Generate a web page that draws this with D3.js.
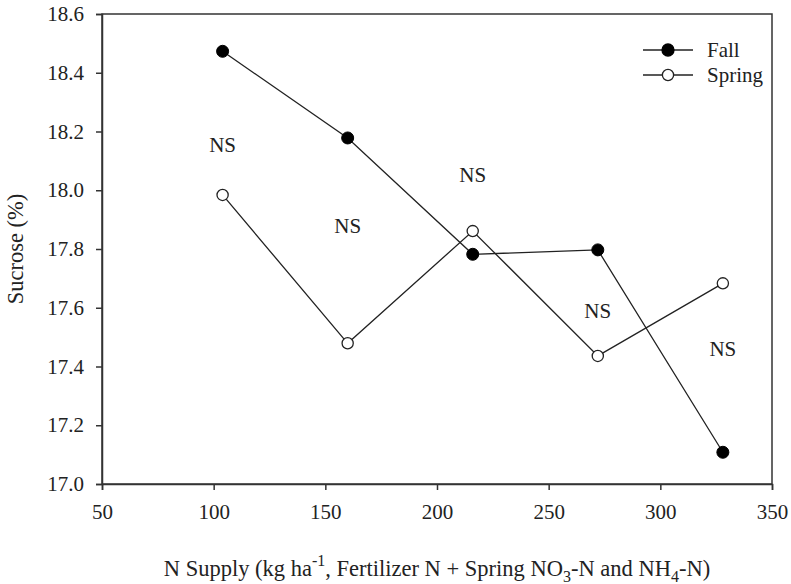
<!DOCTYPE html>
<html>
<head>
<meta charset="utf-8">
<script src="https://cdn.jsdelivr.net/npm/d3@7"></script>
<style>
  html, body { margin: 0; padding: 0; background: #fff; }
  svg { display: block; }
  text { font-family: "Liberation Serif", "Times New Roman", Times, serif; fill: #222; }
</style>
</head>
<body>
<script>
// ---- data ----
const nSupply = [104, 160, 216, 272, 328];
const fallSucrose = [18.473, 18.178, 17.782, 17.797, 17.108];
const springSucrose = [17.984, 17.479, 17.861, 17.436, 17.683];
const nsLabelX = [104, 160, 216, 272, 328];
const nsLabelY = [18.154, 17.878, 18.052, 17.59, 17.46];
const nsLabels = ["NS", "NS", "NS", "NS", "NS"];
const xTicks = [50, 100, 150, 200, 250, 300, 350];
const yTicks = [17.0, 17.2, 17.4, 17.6, 17.8, 18.0, 18.2, 18.4, 18.6];
const seriesNames = ["Fall", "Spring"];

// ---- layout ----
const W = 791, H = 584;
const margin = { left: 102, right: 19, top: 14, bottom: 100 };
const pw = W - margin.left - margin.right;
const ph = H - margin.top - margin.bottom;
const FS = 21;
const TFS = 22.5;

const svg = d3.select("body").append("svg").attr("width", W).attr("height", H);
const g = svg.append("g").attr("transform", `translate(${margin.left},${margin.top})`);

const x = d3.scaleLinear().domain([50, 350]).range([0, pw]);
const y = d3.scaleLinear().domain([17.0, 18.6]).range([ph, 0]);

// frame
g.append("rect").attr("x", 0).attr("y", 0).attr("width", pw).attr("height", ph)
  .attr("fill", "none").attr("stroke", "#333").attr("stroke-width", 1.5);

// axes
const xAxis = g.append("g").attr("transform", `translate(0,${ph})`)
  .call(d3.axisBottom(x).tickValues(xTicks).tickFormat(d3.format("d")).tickSize(6).tickPadding(14));
const yAxis = g.append("g")
  .call(d3.axisLeft(y).tickValues(yTicks).tickFormat(d3.format(".1f")).tickSize(6).tickPadding(12));
[xAxis, yAxis].forEach(a => {
  a.attr("font-family", "Liberation Serif");
  a.select(".domain").attr("stroke", "#333").attr("stroke-width", 1.5);
  a.selectAll(".tick line").attr("stroke", "#333").attr("stroke-width", 1.5);
  a.selectAll(".tick text").attr("font-size", FS).attr("fill", "#222");
});

// lines
const line = d3.line().x(d => x(d[0])).y(d => y(d[1]));
const fallData = nSupply.map((v, i) => [v, fallSucrose[i]]);
const springData = nSupply.map((v, i) => [v, springSucrose[i]]);

g.append("path").datum(fallData).attr("d", line)
  .attr("fill", "none").attr("stroke", "#222").attr("stroke-width", 1.3);
g.append("path").datum(springData).attr("d", line)
  .attr("fill", "none").attr("stroke", "#222").attr("stroke-width", 1.3);

g.selectAll(".fallpt").data(fallData).enter().append("circle")
  .attr("cx", d => x(d[0])).attr("cy", d => y(d[1])).attr("r", 6)
  .attr("fill", "#000").attr("stroke", "#000").attr("stroke-width", 1);
g.selectAll(".springpt").data(springData).enter().append("circle")
  .attr("cx", d => x(d[0])).attr("cy", d => y(d[1])).attr("r", 5.6)
  .attr("fill", "#fff").attr("stroke", "#222").attr("stroke-width", 1.3);

// NS labels
g.selectAll(".ns").data(nsLabels).enter().append("text")
  .attr("x", (d, i) => x(nsLabelX[i])).attr("y", (d, i) => y(nsLabelY[i]))
  .attr("dy", "0.35em").attr("text-anchor", "middle").attr("font-size", FS)
  .text(d => d);

// legend
const leg = g.append("g").attr("transform", `translate(${643 - margin.left},${50 - margin.top})`);
seriesNames.forEach((name, i) => {
  const row = leg.append("g").attr("transform", `translate(0,${i * 25})`);
  row.append("line").attr("x1", 0).attr("x2", 50).attr("y1", 0).attr("y2", 0)
    .attr("stroke", "#222").attr("stroke-width", 1.3);
  row.append("circle").attr("cx", 25).attr("cy", 0).attr("r", i === 0 ? 6 : 5.6)
    .attr("fill", i === 0 ? "#000" : "#fff").attr("stroke", i === 0 ? "#000" : "#222").attr("stroke-width", 1.3);
  row.append("text").attr("x", 64).attr("y", 0).attr("dy", "0.35em")
    .attr("font-size", FS).text(name);
});

// y axis title
svg.append("text")
  .attr("transform", `translate(23,${margin.top + ph / 2}) rotate(-90)`)
  .attr("text-anchor", "middle").attr("font-size", TFS).text("Sucrose (%)");

// x axis title with super/subscripts
const xt = svg.append("text")
  .attr("x", margin.left + pw / 2).attr("y", 576)
  .attr("text-anchor", "middle").attr("font-size", TFS);
xt.append("tspan").text("N Supply (kg ha");
xt.append("tspan").attr("font-size", 16).attr("dy", -10).text("-1");
xt.append("tspan").attr("dy", 10).text(", Fertilizer N + Spring NO");
xt.append("tspan").attr("font-size", 16).attr("dy", 6).text("3");
xt.append("tspan").attr("dy", -6).text("-N and NH");
xt.append("tspan").attr("font-size", 16).attr("dy", 6).text("4");
xt.append("tspan").attr("dy", -6).text("-N)");
</script>
</body>
</html>
